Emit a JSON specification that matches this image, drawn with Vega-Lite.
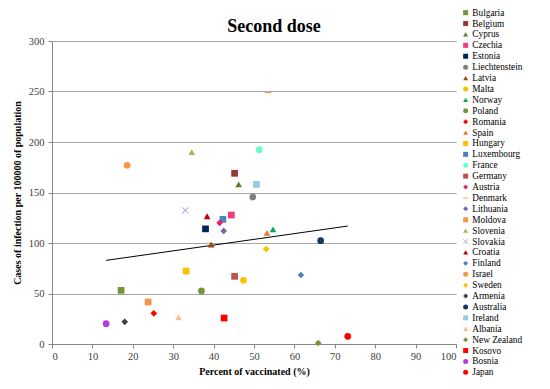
{
  "$schema": "https://vega.github.io/schema/vega-lite/v6.json",
  "width": 404,
  "height": 303,
  "autosize": "none",
  "padding": {"left": 52, "top": 41, "right": 94, "bottom": 45},
  "title": {"text": "Second dose", "fontSize": 18, "font": "Liberation Serif", "fontWeight": "bold", "color": "#000000", "anchor": "middle", "dx": 20, "offset": -28},
  "datasets": {
    "points": [
      {"Country": "Bulgaria", "Vaccinated": 17.1, "Cases": 53.1},
      {"Country": "Belgium", "Vaccinated": 45.2, "Cases": 169},
      {"Country": "Cyprus", "Vaccinated": 46.2, "Cases": 158},
      {"Country": "Czechia", "Vaccinated": 44.4, "Cases": 127.7},
      {"Country": "Estonia", "Vaccinated": 38.0, "Cases": 114},
      {"Country": "Liechtenstein", "Vaccinated": 49.7, "Cases": 145.5},
      {"Country": "Latvia", "Vaccinated": 39.4, "Cases": 98.5},
      {"Country": "Malta", "Vaccinated": 47.4, "Cases": 63},
      {"Country": "Norway", "Vaccinated": 54.7, "Cases": 113.5},
      {"Country": "Poland", "Vaccinated": 37.0, "Cases": 52.5},
      {"Country": "Romania", "Vaccinated": 25.2, "Cases": 30.4},
      {"Country": "Spain", "Vaccinated": 53.2, "Cases": 110},
      {"Country": "Hungary", "Vaccinated": 33.2, "Cases": 72.3},
      {"Country": "Luxembourg", "Vaccinated": 42.3, "Cases": 123.4},
      {"Country": "France", "Vaccinated": 51.3, "Cases": 192.4},
      {"Country": "Germany", "Vaccinated": 45.2, "Cases": 67},
      {"Country": "Austria", "Vaccinated": 41.5, "Cases": 120},
      {"Country": "Denmark", "Vaccinated": 53.5, "Cases": 249},
      {"Country": "Lithuania", "Vaccinated": 42.5, "Cases": 112},
      {"Country": "Moldova", "Vaccinated": 23.8, "Cases": 41.6},
      {"Country": "Slovenia", "Vaccinated": 34.6, "Cases": 190},
      {"Country": "Slovakia", "Vaccinated": 33.0, "Cases": 132.4},
      {"Country": "Croatia", "Vaccinated": 38.4, "Cases": 126.5},
      {"Country": "Finland", "Vaccinated": 61.6, "Cases": 68.3},
      {"Country": "Israel", "Vaccinated": 18.6, "Cases": 177},
      {"Country": "Sweden", "Vaccinated": 53.0, "Cases": 94},
      {"Country": "Armenia", "Vaccinated": 18.0, "Cases": 22},
      {"Country": "Australia", "Vaccinated": 66.5, "Cases": 102.3},
      {"Country": "Ireland", "Vaccinated": 50.6, "Cases": 158},
      {"Country": "Albania", "Vaccinated": 31.3, "Cases": 26.5},
      {"Country": "New Zealand", "Vaccinated": 65.9, "Cases": 1},
      {"Country": "Kosovo", "Vaccinated": 42.6, "Cases": 25.7},
      {"Country": "Bosnia", "Vaccinated": 13.4, "Cases": 20.1},
      {"Country": "Japan", "Vaccinated": 73.2, "Cases": 7.6}
    ],
    "trend": [
      {"Vaccinated": 13.4, "Cases": 82.8},
      {"Vaccinated": 73.2, "Cases": 116.8}
    ]
  },
  "layer": [
    {
      "data": {"name": "trend"},
      "mark": {"type": "line", "color": "#000000", "strokeWidth": 1},
      "encoding": {
        "x": {"field": "Vaccinated", "type": "quantitative", "scale": {"domain": [0, 100], "nice": false},
          "axis": {"title": "Percent of vaccinated (%)", "values": [0,10,20,30,40,50,60,70,80,90,100], "grid": false}},
        "y": {"field": "Cases", "type": "quantitative", "scale": {"domain": [0, 300], "nice": false},
          "axis": {"title": "Cases of infection per 100000 of population", "values": [0,50,100,150,200,250,300], "grid": true}}
      }
    },
    {
      "data": {"name": "points"},
      "mark": {"type": "point", "filled": true, "opacity": 1, "size": 45},
      "encoding": {
        "x": {"field": "Vaccinated", "type": "quantitative"},
        "y": {"field": "Cases", "type": "quantitative"},
        "color": {"field": "Country", "type": "nominal",
          "scale": {
            "domain": ["Bulgaria","Belgium","Cyprus","Czechia","Estonia","Liechtenstein","Latvia","Malta","Norway","Poland","Romania","Spain","Hungary","Luxembourg","France","Germany","Austria","Denmark","Lithuania","Moldova","Slovenia","Slovakia","Croatia","Finland","Israel","Sweden","Armenia","Australia","Ireland","Albania","New Zealand","Kosovo","Bosnia","Japan"],
            "range": ["#77933C","#953735","#5E7D2A","#F03C78","#002060","#808080","#984807","#FFC000","#00B050","#77933C","#FF0000","#E07B39","#FFC000","#4F81BD","#66FFCC","#C0504D","#F0206A","#F79646","#8064A2","#F79646","#9BBB59","#9E8FCC","#C00000","#4F81BD","#F79646","#FFC000","#404040","#17375E","#93CDDD","#FABF8F","#77933C","#FF0000","#B43CDC","#FF0000"]
          },
          "legend": {"title": null}
        },
        "shape": {"field": "Country", "type": "nominal",
          "scale": {
            "domain": ["Bulgaria","Belgium","Cyprus","Czechia","Estonia","Liechtenstein","Latvia","Malta","Norway","Poland","Romania","Spain","Hungary","Luxembourg","France","Germany","Austria","Denmark","Lithuania","Moldova","Slovenia","Slovakia","Croatia","Finland","Israel","Sweden","Armenia","Australia","Ireland","Albania","New Zealand","Kosovo","Bosnia","Japan"],
            "range": ["square","square","triangle-up","square","square","circle","triangle-up","circle","triangle-up","circle","diamond","triangle-up","square","square","circle","square","diamond","M-1,-0.18H1V0.18H-1Z","diamond","square","triangle-up","M-1,-0.85L-0.85,-1L0,-0.15L0.85,-1L1,-0.85L0.15,0L1,0.85L0.85,1L0,0.15L-0.85,1L-1,0.85L-0.15,0Z","triangle-up","diamond","circle","diamond","diamond","circle","square","triangle-up","diamond","square","circle","circle"]
          },
          "legend": {"title": null}
        }
      }
    }
  ],
  "config": {
    "font": "Liberation Serif",
    "view": {"stroke": null},
    "axis": {
      "domainColor": "#868686",
      "tickColor": "#868686",
      "tickSize": 4,
      "gridColor": "#a6a6a6",
      "labelFont": "Liberation Serif",
      "labelFontSize": 10.5,
      "labelColor": "#404040",
      "titleFont": "Liberation Serif",
      "titleFontSize": 10,
      "titleFontWeight": "bold",
      "titleColor": "#000000"
    },
    "axisX": {"labelPadding": 3, "titlePadding": 5},
    "axisY": {"labelPadding": 4, "titlePadding": 6},
    "legend": {
      "orient": "none",
      "legendX": 409,
      "legendY": -33,
      "padding": 0,
      "symbolLimit": 50,
      "labelFont": "Liberation Serif",
      "labelFontSize": 9.3,
      "labelColor": "#000000",
      "rowPadding": 0.9,
      "symbolSize": 25,
      "labelOffset": 2,
      "symbolStrokeWidth": 0
    }
  }
}
